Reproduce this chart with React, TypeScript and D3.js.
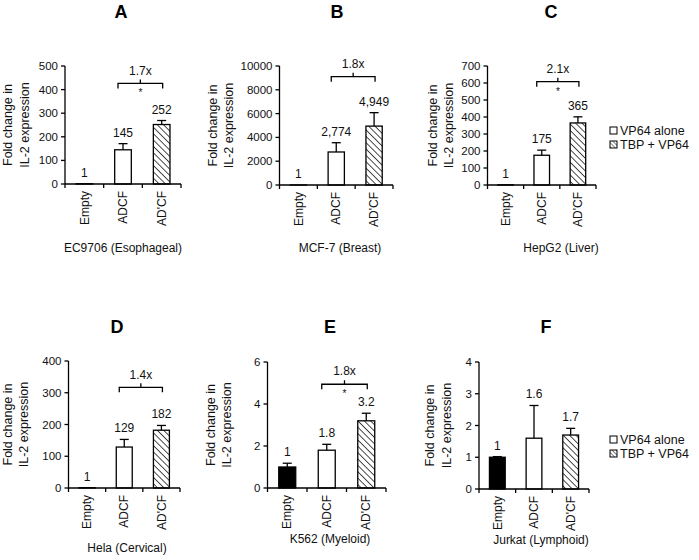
import React from "react";
import * as d3 from "d3";

// ---------------- DATA ----------------
const categories = ["Empty", "ADCF", "AD'CF"];
const panelLetters = ["A", "B", "C", "D", "E", "F"];
const cellLines = [
  "EC9706 (Esophageal)",
  "MCF-7 (Breast)",
  "HepG2 (Liver)",
  "Hela (Cervical)",
  "K562 (Myeloid)",
  "Jurkat (Lymphoid)",
];
const yMaxes = [500, 10000, 700, 400, 6, 4];
const ySteps = [100, 2000, 100, 100, 2, 1];

const meansA = [1, 145, 252];
const meansB = [1, 2774, 4949];
const meansC = [1, 175, 365];
const meansD = [1, 129, 182];
const meansE = [1, 1.8, 3.2];
const meansF = [1, 1.6, 1.7];

const errorsA = [0, 26, 17];
const errorsB = [0, 780, 1130];
const errorsC = [0, 30, 36];
const errorsD = [0, 24, 15];
const errorsE = [0.18, 0.28, 0.36];
const errorsF = [0.02, 1.03, 0.21];

const valueLabelsA = ["1", "145", "252"];
const valueLabelsB = ["1", "2,774", "4,949"];
const valueLabelsC = ["1", "175", "365"];
const valueLabelsD = ["1", "129", "182"];
const valueLabelsE = ["1", "1.8", "3.2"];
const valueLabelsF = ["1", "1.6", "1.7"];

const foldLabels = ["1.7x", "1.8x", "2.1x", "1.4x", "1.8x", ""];
const significant = [true, false, true, false, true, false];
const bracketAt = [426, 9100, 608, 317, 4.94, 0];

const legendLabels = ["VP64 alone", "TBP + VP64"];

const means = [meansA, meansB, meansC, meansD, meansE, meansF];
const errors = [errorsA, errorsB, errorsC, errorsD, errorsE, errorsF];
const valueLabels = [valueLabelsA, valueLabelsB, valueLabelsC, valueLabelsD, valueLabelsE, valueLabelsF];

// ---------------- LAYOUT ----------------
const layout = [
  { x0: 65, x1: 181, yTop: 66, yBot: 184, titleX: 121, titleY: 12, subX: 123, subY: 248, labX: [8, 25] },
  { x0: 279.5, x1: 393, yTop: 66, yBot: 185, titleX: 337, titleY: 12, subX: 340, subY: 248, labX: [213, 229] },
  { x0: 487.5, x1: 596, yTop: 66, yBot: 185, titleX: 551, titleY: 12, subX: 561, subY: 248, labX: [433, 449] },
  { x0: 68.5, x1: 180, yTop: 361, yBot: 488, titleX: 117, titleY: 327, subX: 127, subY: 548, labX: [8, 24] },
  { x0: 267.5, x1: 386, yTop: 362, yBot: 488, titleX: 330, titleY: 327, subX: 330, subY: 539, labX: [211, 227] },
  { x0: 479, x1: 589, yTop: 362, yBot: 489, titleX: 546, titleY: 327, subX: 541, subY: 540, labX: [430, 447] },
];
const legendPos = [
  { x: 610, y: [130.5, 144.5] },
  { x: 610, y: [439.5, 453.5] },
];

const FONT = "'Liberation Sans', Arial, sans-serif";
const TICK_FS = 11.5;
const LABEL_FS = 12;

function fillFor(i: number) {
  if (i === 0) return "#000";
  if (i === 1) return "#fff";
  return "url(#hatch)";
}

function Panel({ p }: { p: number }) {
  const L = layout[p];
  const x = d3.scaleBand<string>().domain(categories).range([L.x0, L.x1]).paddingInner(0).paddingOuter(0);
  const y = d3.scaleLinear().domain([0, yMaxes[p]]).range([L.yBot, L.yTop]);
  const ticks = d3.range(0, yMaxes[p] + ySteps[p] / 2, ySteps[p]);
  const bw = x.bandwidth() * 0.43;
  const cx = (c: string) => (x(c) as number) + x.bandwidth() / 2;
  const boundaries = [L.x0, ...categories.map((c) => (x(c) as number) + x.bandwidth())];
  const labCenterY = (L.yTop + L.yBot) / 2;

  const bl = cx(categories[1]) - 5;
  const br = cx(categories[2]) + 1;
  const by = y(bracketAt[p]);
  const bmid = (bl + br) / 2;

  return (
    <g>
      <text x={L.titleX} y={L.titleY} dy="0.36em" textAnchor="middle" fontSize={18} fontWeight="bold" fontFamily={FONT}>
        {panelLetters[p]}
      </text>
      {["Fold change in", "IL-2 expression"].map((t, i) => (
        <text key={t} transform={`translate(${L.labX[i]},${labCenterY}) rotate(-90)`} dy="0.35em" textAnchor="middle" fontSize={12.5} fontFamily={FONT} fill="#111">
          {t}
        </text>
      ))}
      {categories.map((c, i) => {
        const v = means[p][i];
        const top = y(v);
        return (
          <rect key={c} x={cx(c) - bw / 2} y={top} width={bw} height={Math.max(0, L.yBot - top)} fill={fillFor(i)} stroke="#000" strokeWidth={1.3} />
        );
      })}
      {categories.map((c, i) => {
        const v = means[p][i];
        const e = errors[p][i];
        if (e <= 0) return null;
        const y1 = y(v);
        const y2 = y(v + e);
        return (
          <g key={c} stroke="#000" strokeWidth={1.3}>
            <line x1={cx(c)} x2={cx(c)} y1={y1} y2={y2} />
            <line x1={cx(c) - 4.5} x2={cx(c) + 4.5} y1={y2} y2={y2} />
          </g>
        );
      })}
      {categories.map((c, i) => (
        <text key={c} x={cx(c)} y={y(means[p][i] + errors[p][i]) - 7} textAnchor="middle" fontSize={LABEL_FS} fontFamily={FONT} fill="#111">
          {valueLabels[p][i]}
        </text>
      ))}
      <line x1={L.x0} x2={L.x0} y1={L.yTop} y2={L.yBot} stroke="#000" strokeWidth={1.3} />
      <line x1={L.x0} x2={L.x1} y1={L.yBot} y2={L.yBot} stroke="#000" strokeWidth={1.3} />
      {ticks.map((t) => (
        <g key={t}>
          <line x1={L.x0 - 4} x2={L.x0} y1={y(t)} y2={y(t)} stroke="#000" strokeWidth={1.3} />
          <text x={L.x0 - 7} y={y(t)} dy="0.35em" textAnchor="end" fontSize={TICK_FS} fontFamily={FONT} fill="#111">
            {t}
          </text>
        </g>
      ))}
      {boundaries.map((b, i) => (
        <line key={i} x1={b} x2={b} y1={L.yBot} y2={L.yBot + 4} stroke="#000" strokeWidth={1.3} />
      ))}
      {categories.map((c) => (
        <text key={c} transform={`translate(${cx(c)},${L.yBot + 7}) rotate(-90)`} dy="0.35em" textAnchor="end" fontSize={12} fontFamily={FONT} fill="#111">
          {c}
        </text>
      ))}
      <text x={L.subX} y={L.subY} dy="0.35em" textAnchor="middle" fontSize={12} fontFamily={FONT} fill="#111">
        {cellLines[p]}
      </text>
      {foldLabels[p] && (
        <g>
          <path d={`M${bl},${by + 5}V${by}H${br}V${by + 5}M${bmid},${by}V${by - 4}`} fill="none" stroke="#000" strokeWidth={1.3} />
          <text x={bmid} y={by - 13} dy="0.35em" textAnchor="middle" fontSize={12} fontFamily={FONT} fill="#111">
            {foldLabels[p]}
          </text>
          {significant[p] && (
            <text x={bmid} y={by + 7} dy="0.6em" textAnchor="middle" fontSize={10} fontFamily={FONT} fill="#111">
              *
            </text>
          )}
        </g>
      )}
    </g>
  );
}

function Legend({ x, ys }: { x: number; ys: number[] }) {
  return (
    <g>
      {legendLabels.map((t, i) => (
        <g key={t}>
          <rect x={x} y={ys[i] - 3.5} width={7} height={7} fill={i === 0 ? "#fff" : "url(#hatchSmall)"} stroke="#000" strokeWidth={1} />
          <text x={x + 10} y={ys[i]} dy="0.35em" fontSize={12.5} fontFamily={FONT} fill="#111">
            {t}
          </text>
        </g>
      ))}
    </g>
  );
}

export default function App() {
  return (
    <svg width={699} height={560} style={{ position: "absolute", left: 0, top: 0, background: "#fff" }}>
      <defs>
        <pattern id="hatch" patternUnits="userSpaceOnUse" width={4.5} height={4.5} patternTransform="rotate(-45)">
          <rect width={4.5} height={4.5} fill="#fff" />
          <line x1={0} y1={0} x2={0} y2={4.5} stroke="#000" strokeWidth={1.4} />
        </pattern>
        <pattern id="hatchSmall" patternUnits="userSpaceOnUse" width={3} height={3} patternTransform="rotate(-45)">
          <rect width={3} height={3} fill="#fff" />
          <line x1={0} y1={0} x2={0} y2={3} stroke="#000" strokeWidth={1} />
        </pattern>
      </defs>
      <rect width={699} height={560} fill="#fff" />
      {panelLetters.map((_, p) => (
        <Panel key={p} p={p} />
      ))}
      {legendPos.map((l, i) => (
        <Legend key={i} x={l.x} ys={l.y} />
      ))}
    </svg>
  );
}
